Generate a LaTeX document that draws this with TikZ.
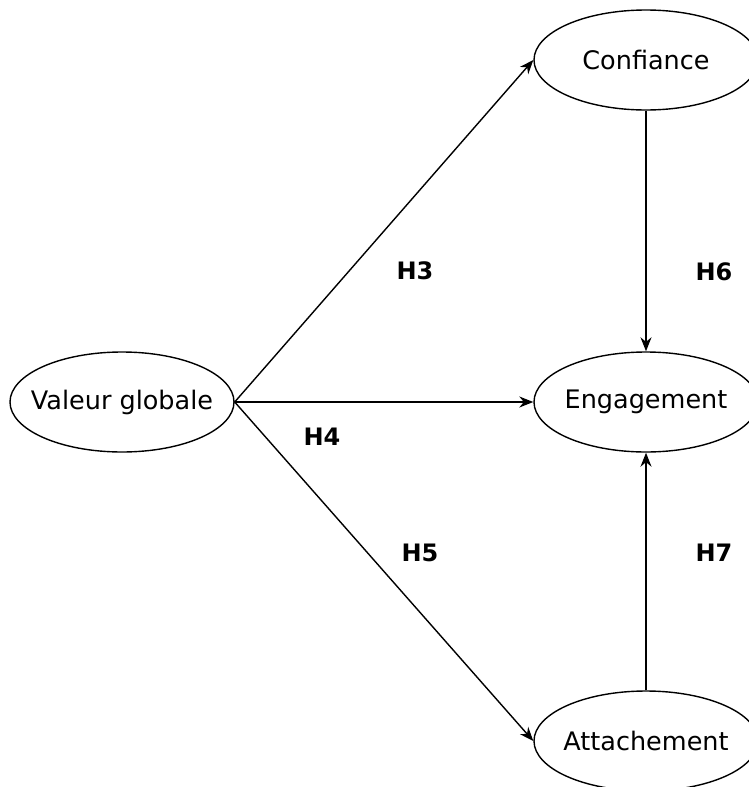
\documentclass[tikz,border=0pt]{standalone}
\usepackage{fontspec}
\setmainfont{DejaVu Sans}
\usetikzlibrary{shapes.geometric,arrows.meta}

\begin{document}
\begin{tikzpicture}
      [x=1pt,y=-1pt,
       nodeVar/.style={ellipse,draw,line width=1.4pt,minimum width=224pt,minimum height=100pt,
         inner xsep=-20pt,inner ysep=0pt,font=\fontsize{25.5}{30}\selectfont},
       nodeHyp/.style={font=\fontsize{24}{28}\selectfont\bfseries},
       arr/.style={-{Stealth[length=14pt,width=11pt]},line width=1.4pt}]
      \useasboundingbox (0,0) rectangle (748,787);
      \node[nodeVar] (valeur) at (122,402) {Valeur globale};
      \node[nodeVar] (confiance) at (646,60) {Confiance};
      \node[nodeVar] (engagement) at (646,402) {Engagement};
      \node[nodeVar] (attachement) at (646,741) {Attachement};

      \node[nodeHyp] (h3) at (415,271) {H3};
      \node[nodeHyp] (h4) at (322,437) {H4};
      \node[nodeHyp] (h5) at (420,553) {H5};
      \node[nodeHyp] (h6) at (714,272) {H6};
      \node[nodeHyp] (h7) at (714,553) {H7};

      \foreach \src/\tgt in {valeur.east/confiance.west,valeur.east/engagement.west,
        valeur.east/attachement.west}
      \draw[arr] (\src) -- (\tgt);

      % vertical links
      \foreach \src/\tgt in {confiance/engagement,attachement/engagement}
      \draw[arr] (\src) -- (\tgt);
    \end{tikzpicture}
\end{document}
